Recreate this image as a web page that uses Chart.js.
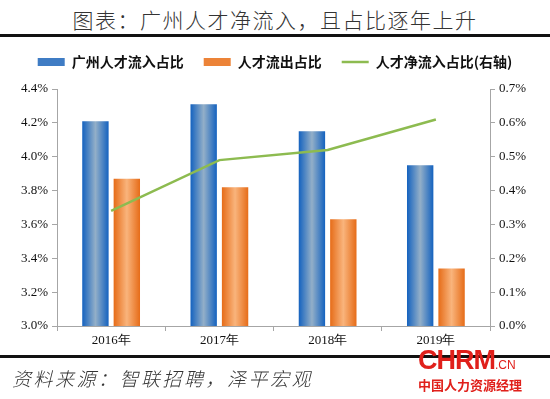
<!DOCTYPE html>
<html>
<head>
<meta charset="utf-8">
<script src="https://cdn.jsdelivr.net/npm/chart.js@4/dist/chart.umd.min.js"></script>
<style>
  body { margin: 0; width: 550px; height: 399px; background: #fff; position: relative; overflow: hidden; }
  #title { position: absolute; left: 0; top: 4px; width: 550px; text-align: center;
           font: 300 21px "Noto Sans CJK SC"; letter-spacing: 1.5px; color: #333; }
  .rule { position: absolute; left: 0; width: 550px; height: 3px; background: #111; }
  #wrap { position: absolute; left: 0; top: 29px; width: 550px; height: 327px; }
  #source { position: absolute; left: 12px; top: 364px; font: italic 300 19px "Noto Sans CJK SC";
            letter-spacing: 2.5px; color: #333; }
  #logo { position: absolute; left: 418px; top: 345px; color: #e0201b; line-height: 1; }
  #logo .big { font: bold 27px "Liberation Sans"; letter-spacing: -1px; }
  #logo .cn { font: 12px "Liberation Sans"; }
  #logo .small { font: bold 13px "Noto Sans CJK SC"; margin-top: -1px; }
</style>
</head>
<body>
<div id="title">图表：广州人才净流入，且占比逐年上升</div>
<div class="rule" style="top:34px"></div>
<div id="wrap"><canvas id="chart"></canvas></div>
<div class="rule" style="top:355px"></div>
<div id="source">资料来源：智联招聘，泽平宏观</div>
<div id="logo"><span class="big">CHRM</span><span class="cn">.CN</span><div class="small">中国人力资源经理</div></div>
<script>
const years = ['2016年', '2017年', '2018年', '2019年'];
const inflow = [4.21, 4.31, 4.15, 3.95];
const outflow = [3.87, 3.82, 3.63, 3.34];
const netInflow = [0.34, 0.49, 0.52, 0.61];

const leftTicks = [3.0, 4.4, 0.2];
const rightTicks = [0, 0.7, 0.1];

const gradStops = {
    0: ['#1462bf', '#93afc8', '#1462bf'],
    1: ['#e66c18', '#f9b47c', '#e66c18']
};

// paint each bar with a horizontal gradient based on where the library put it
const barGradient = {
    id: 'barGradient',
    beforeUpdate(chart) {
        // leave some room under the legend
        const lg = chart.legend;
        if (lg && !lg._padded) {
            const fit = lg.fit;
            lg.fit = function () { fit.call(this); this.height += 10; };
            lg._padded = true;
        }
    },
    beforeDatasetsDraw(chart) {
        const ctx = chart.ctx;
        [0, 1].forEach(di => {
            chart.getDatasetMeta(di).data.forEach(bar => {
                const left = bar.x - bar.width / 2;
                const g = ctx.createLinearGradient(left, 0, left + bar.width, 0);
                const s = gradStops[di];
                g.addColorStop(0, s[0]);
                g.addColorStop(0.5, s[1]);
                g.addColorStop(1, s[2]);
                bar.options = Object.assign({}, bar.options, { backgroundColor: g });
            });
        });
    }
};

const tickFont = { family: 'Liberation Serif', size: 13 };
const axisColor = '#a6a6a6';

const ctx = document.getElementById('chart').getContext('2d');
const chart = new Chart(ctx, {
    type: 'bar',
    data: {
        labels: years,
        datasets: [{
            label: '广州人才流入占比',
            data: inflow,
            backgroundColor: '#3f7cc4',
            pointStyle: 'rect',
            yAxisID: 'y',
            order: 2
        }, {
            label: '人才流出占比',
            data: outflow,
            backgroundColor: '#ec8338',
            pointStyle: 'rect',
            yAxisID: 'y',
            order: 2
        }, {
            type: 'line',
            label: '人才净流入占比(右轴)',
            data: netInflow,
            borderColor: '#8dbb50',
            backgroundColor: '#8dbb50',
            borderWidth: 2.5,
            pointRadius: 0,
            pointStyle: 'line',
            tension: 0,
            yAxisID: 'y1',
            order: 1
        }]
    },
    options: {
        responsive: true,
        maintainAspectRatio: false,
        animation: false,
        layout: { padding: { top: 6, left: 0, right: 0, bottom: 0 } },
        datasets: {
            bar: { categoryPercentage: 0.58, barPercentage: 0.84 }
        },
        plugins: {
            legend: {
                labels: {
                    usePointStyle: true,
                    pointStyleWidth: 27,
                    boxHeight: 8,
                    padding: 20,
                    color: '#111',
                    font: { family: 'Noto Sans CJK SC', size: 14, weight: 'bold' },
                    sort: (a, b) => a.datasetIndex - b.datasetIndex
                }
            },
            tooltip: { enabled: false }
        },
        scales: {
            x: {
                grid: { display: true, drawOnChartArea: false, drawTicks: true, tickLength: 5, color: axisColor, offset: true },
                border: { color: axisColor },
                ticks: { color: '#111', font: tickFont, padding: 2 },
                afterFit: s => { s.height = 30; }
            },
            y: {
                position: 'left',
                min: leftTicks[0], max: leftTicks[1],
                grid: { display: true, drawOnChartArea: false, drawTicks: true, tickLength: 5, color: axisColor },
                border: { color: axisColor },
                ticks: { stepSize: leftTicks[2], color: '#111', font: tickFont, padding: 4,
                         callback: v => v.toFixed(1) + '%' },
                afterFit: s => { s.width = 57; }
            },
            y1: {
                position: 'right',
                min: rightTicks[0], max: rightTicks[1],
                grid: { display: true, drawOnChartArea: false, drawTicks: true, tickLength: 5, color: axisColor },
                border: { color: axisColor },
                ticks: { stepSize: rightTicks[2], color: '#111', font: tickFont, padding: 4,
                         callback: v => v.toFixed(1) + '%' },
                afterFit: s => { s.width = 60; }
            }
        }
    },
    plugins: [barGradient]
});
</script>
</body>
</html>
